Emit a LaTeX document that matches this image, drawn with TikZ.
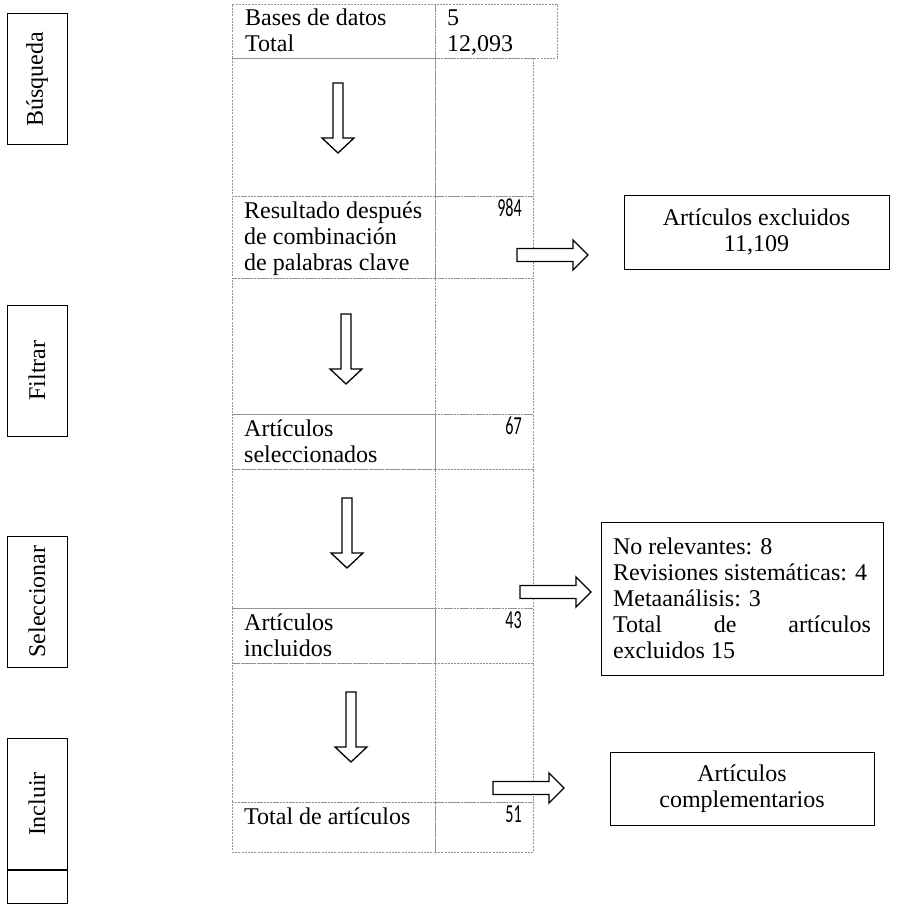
\documentclass[tikz,border=0pt]{standalone}
\usepackage{fontspec}
\setmainfont{Liberation Serif}
\newfontfamily\numfont[FakeStretch=0.62]{Carlito}

\begin{document}
\begin{tikzpicture}[x=1pt,y=-1pt,
	every node/.style={font=\fontsize{24}{26}\selectfont}]
	\tikzset{
	  cell/.style = { draw=gray!85, dash pattern=on 2pt off 1.2pt, line width=0.5pt,
	                  anchor=north west, inner sep=0pt, outer sep=0pt },
	  stage/.style = { draw, line width=1pt, rotate=90, minimum width=131pt,
	                   minimum height=60pt, inner sep=0pt },
	  outbox/.style = { draw, line width=1pt, inner sep=0pt, align=center },
	  txt/.style = { anchor=base west, inner sep=0pt, align=left },
	  num/.style = { anchor=base east, inner sep=0pt,
	                 font=\numfont\fontsize{26}{26}\selectfont },
	  fat/.style = { draw, line width=1.3pt, fill=white, line join=miter },
	  downarr/.pic = { \draw[fat] (-5,0) -- (5,0) -- (5,55) -- (16,55) -- (0,70)
	                   -- (-16,55) -- (-5,55) -- cycle; },
	  rightarr/.pic = { \draw[fat] (0,-6.5) -- (56,-6.5) -- (56,-15) -- (71,0)
	                    -- (56,15) -- (56,6.5) -- (0,6.5) -- cycle; } }
	\useasboundingbox (0,0) rectangle (898,912);
	% table
	\node[cell, minimum width=203pt, minimum height=54pt] (l0) at (232,4) {};
	\node[cell, minimum width=122pt, minimum height=54pt] (r0) at (435,4) {};
	\foreach \t/\b [count=\i] in {58/196,196/278,278/414,414/469,469/608,608/663,663/802,802/852}{
	  \node[cell, minimum width=203pt, minimum height={(\b-\t)*1pt}] (l\i) at (232,\t) {};
	  \node[cell, minimum width=98pt, minimum height={(\b-\t)*1pt}] (r\i) at (435,\t) {};
	}
	% base anchor sits on the last line
	\node[txt] (bases) at (245,52) {Bases de datos\\Total};
	\node[txt] (basesn) at (447,52) {5\\12,093};
	\node[txt] (res) at (244,270) {Resultado después\\de combinación\\de palabras clave};
	\node[num] (resn) at (522,216) {984};
	\node[txt] (sel) at (244,462) {Artículos\\seleccionados};
	\node[num] (seln) at (522,434) {67};
	\node[txt] (inc) at (244,656) {Artículos\\incluidos};
	\node[num] (incn) at (522,628) {43};
	\node[txt] (tot) at (244,824) {Total de artículos};
	\node[num] (totn) at (522,822) {51};
	% stages
	\node[stage] (busq) at (37,79.5) {Búsqueda};
	\node[stage] (filt) at (37,370.5) {Filtrar};
	\node[stage] (selc) at (37,601.5) {Seleccionar};
	\node[stage] (incl) at (37,804) {Incluir};
	\node[draw, line width=1pt, minimum width=60pt, minimum height=33pt,
	      inner sep=0pt] (inclb) at (37,886.5) {};
	% excluded
	\node[outbox, minimum width=265pt, minimum height=74pt] (excl) at (756.5,232)
	  {Artículos excluidos\\11,109};
	\node[outbox, text width=258pt, align=justify, inner xsep=12pt,
	      minimum height=153pt] (motivos) at (742,598.5)
	  {No relevantes: 8\\Revisiones sistemáticas: 4\\Metaanálisis: 3\\Total de artículos\linebreak excluidos 15};
	\node[outbox, minimum width=264pt, minimum height=73pt] (compl) at (742,788.5)
	  {Artículos\\complementarios};
	% arrows
	\pic at (338,83) {downarr};
	\pic at (346,314) {downarr};
	\pic at (347,498) {downarr};
	\pic at (351,692) {downarr};
	\pic at (517,255) {rightarr};
	\pic at (520,592) {rightarr};
	\pic at (493,788) {rightarr};
\end{tikzpicture}
\end{document}
